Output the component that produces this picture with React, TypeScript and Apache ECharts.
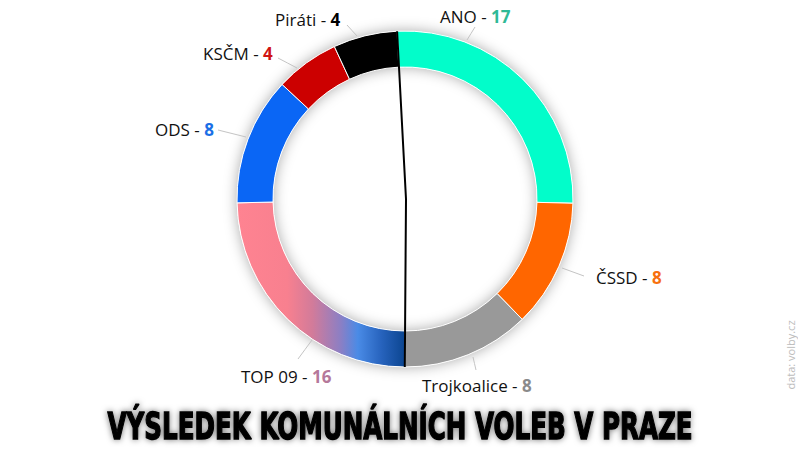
import React, { useEffect, useRef } from "react";
import * as echarts from "echarts";

const parties = ["ANO", "ČSSD", "Trojkoalice", "TOP 09", "ODS", "KSČM", "Piráti"];
const seats = [17, 8, 8, 16, 8, 4, 4];
const sliceColors = ["#02fdca", "#ff6600", "#999999", "TOP09", "#0a66f5", "#cc0000", "#000000"];
const numberColors = ["#2fb996", "#f7700f", "#8a8a8a", "#b5789a", "#1b6fe6", "#d01414", "#000000"];
const majoritySeats = 33;
const title = "VÝSLEDEK KOMUNÁLNÍCH VOLEB V PRAZE";
const source = "data: volby.cz";

// layout (label placement in px), not data
const labelLeft = [440, 596, 422, 241, 155, 203, 275];
const labelMidY = [16, 277, 385, 376, 129, 53, 19];
const lineStart = [[467, 40], [562, 268], [473, 357], [312, 340], [246, 137], [297, 68], [357, 36]];
const lineEnd = [[475, 27], [584, 276], [476, 370], [298, 359], [218, 130], [278, 58], [347, 25]];

const CX = 405;
const CY = 199;
const R_IN = 132;
const R_OUT = 168;
const START = 92.7;

export default function App() {
  const ref = useRef<HTMLDivElement>(null);
  useEffect(() => {
    const chart = echarts.init(ref.current!, null, { renderer: "svg" });
    const total = seats.reduce((a, b) => a + b, 0);
    const top09 = new echarts.graphic.LinearGradient(0, 0, 1, 0, [
      { offset: 0, color: "#ff8391" },
      { offset: 0.3, color: "#f8808f" },
      { offset: 0.45, color: "#d27b9a" },
      { offset: 0.62, color: "#8a7fc5" },
      { offset: 0.72, color: "#4a8be6" },
      { offset: 0.86, color: "#2763bd" },
      { offset: 1, color: "#0b4590" },
    ]);
    const rich: any = { n: { color: "#111", fontSize: 17, fontFamily: "Open Sans" } };
    numberColors.forEach((c, i) => {
      rich["v" + i] = { color: c, fontSize: 17, fontWeight: "bold", fontFamily: "Open Sans" };
    });
    const toXY = (deg: number, r: number) => {
      const a = (deg * Math.PI) / 180;
      return [CX + r * Math.cos(a), CY - r * Math.sin(a)];
    };
    const endDeg = START - (majoritySeats / total) * 360;
    const p1 = toXY(START, R_OUT);
    const p3 = toXY(endDeg, R_OUT);
    chart.setOption({
      animation: false,
      series: [
        {
          type: "pie",
          silent: true,
          center: [CX, CY],
          radius: [R_IN, R_OUT],
          label: { show: false },
          labelLine: { show: false },
          itemStyle: { color: "#fff", shadowBlur: 14, shadowColor: "rgba(0,0,0,0.35)" },
          data: [{ value: 1, name: "" }],
          z: 1,
        },
        {
          type: "pie",
          center: [CX, CY],
          radius: [R_IN, R_OUT],
          startAngle: START,
          clockwise: true,
          z: 2,
          itemStyle: { borderColor: "#fff", borderWidth: 1 },
          label: {
            show: true,
            position: "outside",
            rich,
            formatter: (p: any) => `{n|${p.name} - }{v${p.dataIndex}|${p.value}}`,
          },
          labelLine: { show: true, length: 14, length2: 6, lineStyle: { color: "#c4c4c4", width: 1 } },
          labelLayout: (params: any) => {
            const i = params.dataIndex;
            const s = lineStart[i];
            const e = lineEnd[i];
            return {
              x: labelLeft[i],
              y: labelMidY[i],
              align: "left",
              verticalAlign: "middle",
              labelLinePoints: [s, [(s[0] + e[0]) / 2, (s[1] + e[1]) / 2], e],
            };
          },
          data: parties.map((name, i) => ({
            name,
            value: seats[i],
            itemStyle: { color: sliceColors[i] === "TOP09" ? top09 : sliceColors[i] },
          })),
        },
      ],
      graphic: [
        {
          type: "polyline",
          z: 10,
          shape: { points: [p1, [CX + 1, CY], p3] },
          style: { stroke: "#000", lineWidth: 2, fill: null },
        },
        {
          type: "text",
          x: 400,
          y: 426,
          scaleX: 0.72,
          style: {
            text: title,
            x: 0,
            y: 0,
            align: "center",
            verticalAlign: "middle",
            font: "bold 38px 'DejaVu Sans Condensed'",
            fill: "#000",
            stroke: "#000",
            lineWidth: 1.4,
            textShadowColor: "rgba(0,0,0,0.55)",
            textShadowBlur: 6,
          },
        },
        {
          type: "text",
          x: 790,
          y: 355,
          rotation: Math.PI / 2,
          style: {
            text: source,
            align: "center",
            verticalAlign: "middle",
            font: "11px 'Open Sans'",
            fill: "#bdbdbd",
          },
        },
      ],
    });
    return () => chart.dispose();
  }, []);
  return <div ref={ref} style={{ position: "fixed", left: 0, top: 0, width: 798, height: 450, background: "#fff" }} />;
}
